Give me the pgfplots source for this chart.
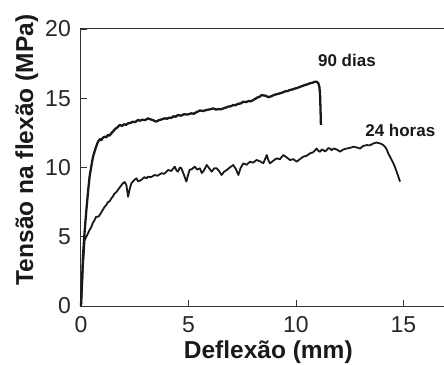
\documentclass[border=0pt]{standalone}
\usepackage{fontspec}
\setmainfont{Liberation Sans}
\usepackage{pgfplots}
\pgfplotsset{compat=1.18}
\begin{document}
\begin{tikzpicture}
\begin{axis}[
  at={(0,0)}, anchor=south west,
  x=21.5pt, y=13.85pt,
  xmin=0, xmax=17.3, ymin=0, ymax=20,
  axis line style={black!80, line width=1pt},
  xtick={0,5,10,15}, ytick={0,5,10,15,20},
  xtick pos=bottom, ytick pos=left,
  tick align=inside, major tick length=6pt,
  tick style={black!80, line width=0.8pt},
  /pgf/number format/assume math mode=true,
  tick label style={font=\fontsize{23}{26}\selectfont, text=black!85},
  xticklabel style={inner sep=0pt, yshift=-10pt},
  yticklabel style={inner sep=0pt, xshift=-10pt},
  xlabel={Deflexão (mm)}, ylabel={Tensão na flexão (MPa)},
  label style={font=\bfseries\fontsize{24.5}{28}\selectfont, inner sep=0pt, text=black!90},
  xlabel style={at={(axis description cs:0.5036,-0.1888)}, anchor=base},
  ylabel style={at={(axis description cs:-0.129,0.563)}, anchor=base},
  clip=false,
]
% 90 dias
\addplot[black!90, line width=2.3pt, line join=round] coordinates {
(0,0) (0.05,1.8) (0.09,3.56) (0.17,5.4) (0.25,6.93) (0.33,8.3) (0.40,9.34) (0.48,10.1) (0.56,10.78)
(0.68,11.4) (0.79,11.86) (0.88,12.05) (0.95,11.98) (1.02,12.15) (1.10,12.22) (1.18,12.18) (1.25,12.35)
(1.33,12.3) (1.41,12.47) (1.50,12.62) (1.60,12.8) (1.70,12.9) (1.80,13.07) (1.90,13.0) (2.0,13.12)
(2.10,13.08) (2.19,13.19) (2.30,13.22) (2.40,13.3) (2.52,13.28) (2.65,13.43) (2.75,13.38) (2.85,13.45)
(2.98,13.42) (3.12,13.55) (3.22,13.48) (3.30,13.45) (3.40,13.38) (3.50,13.31) (3.60,13.4) (3.70,13.45)
(3.80,13.5) (3.89,13.55) (4.00,13.52) (4.10,13.6) (4.20,13.58) (4.30,13.7) (4.40,13.66) (4.51,13.79)
(4.65,13.74) (4.80,13.85) (4.95,13.82) (5.13,13.91) (5.25,13.88) (5.35,13.98) (5.45,14.05) (5.53,14.12)
(5.68,14.08) (5.83,14.15) (6.0,14.2) (6.15,14.27) (6.28,14.18) (6.40,14.22) (6.52,14.2) (6.62,14.27)
(6.75,14.33) (6.85,14.4) (6.97,14.42) (7.08,14.51) (7.20,14.5) (7.30,14.6) (7.42,14.62) (7.55,14.75)
(7.68,14.72) (7.80,14.8) (7.90,14.78) (8.01,14.87) (8.10,14.95) (8.20,15.05) (8.30,15.1) (8.40,15.23)
(8.50,15.2) (8.60,15.18) (8.70,15.08) (8.79,15.11) (8.90,15.18) (9.0,15.25) (9.12,15.3) (9.26,15.36)
(9.38,15.42) (9.50,15.5) (9.60,15.52) (9.72,15.60) (9.84,15.64) (9.95,15.7) (10.07,15.75) (10.19,15.83)
(10.30,15.88) (10.40,15.95) (10.52,16.0) (10.65,16.08) (10.77,16.12) (10.88,16.20) (10.97,16.18)
(11.04,16.08) (11.09,15.8) (11.12,15.23) (11.14,14.2) (11.16,13.07)
};
% 24 horas
\addplot[black!90, line width=1.8pt, line join=round] coordinates {
(0,0) (0.08,2.6) (0.17,4.77) (0.28,5.1) (0.40,5.49) (0.48,5.7) (0.55,6.0) (0.63,6.2) (0.71,6.45)
(0.80,6.45) (0.87,6.57) (0.98,6.85) (1.10,7.17) (1.18,7.3) (1.25,7.5) (1.33,7.55) (1.41,7.77)
(1.48,7.9) (1.55,8.1) (1.63,8.2) (1.72,8.38) (1.82,8.6) (1.95,8.86) (2.03,8.95) (2.11,8.74) (2.19,7.89)
(2.26,8.4) (2.34,8.86) (2.45,9.05) (2.57,9.22) (2.66,9.0) (2.80,9.10) (2.95,9.3) (3.05,9.22) (3.12,9.34)
(3.25,9.3) (3.43,9.46) (3.55,9.4) (3.74,9.58) (3.88,9.55) (4.05,9.82) (4.20,9.75) (4.36,10.06)
(4.44,9.8) (4.51,9.70) (4.60,10.0) (4.67,9.94) (4.78,9.5) (4.90,8.98) (4.97,9.4) (5.05,9.82)
(5.17,9.9) (5.29,10.06) (5.40,9.85) (5.53,9.94) (5.62,9.6) (5.70,9.75) (5.85,10.18) (5.96,9.95)
(6.08,9.70) (6.20,9.95) (6.31,9.94) (6.42,9.75) (6.54,9.46) (6.66,9.7) (6.78,9.82) (6.92,10.0)
(7.08,10.18) (7.20,9.9) (7.32,9.46) (7.42,9.95) (7.55,10.30) (7.70,10.2) (7.86,10.42) (8.00,10.35)
(8.17,10.54) (8.32,10.45) (8.48,10.30) (8.56,10.6) (8.64,10.90) (8.72,10.5) (8.79,10.30) (8.95,10.5)
(9.10,10.66) (9.25,10.6) (9.41,10.90) (9.55,10.75) (9.72,10.54) (9.88,10.6) (10.03,10.42) (10.18,10.6)
(10.34,10.78) (10.50,10.85) (10.65,11.02) (10.80,11.1) (10.96,11.37) (11.04,11.2) (11.12,11.14)
(11.20,11.3) (11.27,11.26) (11.35,11.15) (11.43,11.26) (11.50,11.4) (11.58,11.37) (11.66,11.25)
(11.74,11.37) (11.90,11.3) (12.05,11.14) (12.20,11.3) (12.36,11.37) (12.52,11.42) (12.67,11.50)
(12.82,11.45) (12.98,11.37) (13.12,11.55) (13.29,11.62) (13.45,11.6) (13.60,11.74) (13.75,11.8)
(13.91,11.74) (14.03,11.65) (14.14,11.50) (14.22,11.3) (14.29,11.02) (14.40,10.7) (14.53,10.30)
(14.60,10.05) (14.68,9.70) (14.76,9.35) (14.84,8.98)
};
\node[font=\bfseries\fontsize{17}{20}\selectfont, text=black!90] at (axis cs:12.37,17.76) {90 dias};
\node[font=\bfseries\fontsize{17}{20}\selectfont, text=black!90] at (axis cs:14.85,12.71) {24 horas};
\end{axis}
\pgfresetboundingbox
\path (-81pt,-58pt) rectangle (363pt,306pt);
\end{tikzpicture}
\end{document}
